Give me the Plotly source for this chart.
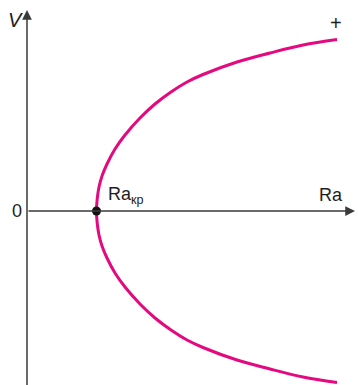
import plotly.graph_objects as go

# curve (arbitrary units, origin where the axes cross)
ra_cr = 69.5
ra_branch = [69.5, 70.2, 72, 75, 80, 88, 98, 113, 128, 144, 160, 176, 210, 243, 276, 310]
v_branch = [0, 12, 24, 35, 47, 62, 76, 93, 107, 119, 129, 136.5, 149, 158, 166, 171.5]

# full curve: lower branch (V < 0) then upper branch (V > 0)
ra_curve = ra_branch[::-1] + ra_branch[1:]
v_curve = [-v for v in v_branch[::-1]] + v_branch[1:]

axis_col = "#3a3a3a"
curve_col = "#e5097f"
txt_col = "#1e1e1e"
font = "Liberation Sans, Arial, sans-serif"

fig = go.Figure()

fig.add_trace(go.Scatter(
    x=ra_curve, y=v_curve, mode="lines",
    line=dict(color=curve_col, width=3, shape="spline", smoothing=1),
    hoverinfo="skip", showlegend=False,
))

fig.add_trace(go.Scatter(
    x=[ra_cr], y=[0], mode="markers",
    marker=dict(color="#111111", size=9),
    hoverinfo="skip", showlegend=False,
))

# axes with arrows
arrow = dict(showarrow=True, text="", arrowhead=2, arrowsize=1.3, arrowwidth=1.5,
             arrowcolor=axis_col, xref="x", yref="y", axref="x", ayref="y",
             standoff=0, startstandoff=0)
fig.add_annotation(x=0, y=201, ax=0, ay=-180, **arrow)
fig.add_annotation(x=328, y=0, ax=0, ay=0, **arrow)

labels = [
    ("<i>V</i>", -12, 191, 20),
    ("0", -10, 0, 18),
    ("Ra", 304, 16, 18),
    ("Ra<sub>кр</sub>", 99, 16, 18),
    ("+", 309, 188, 20),
]
for text, x, y, size in labels:
    fig.add_annotation(x=x, y=y, text=text, showarrow=False, xref="x", yref="y",
                       font=dict(family=font, size=size, color=txt_col))

fig.update_xaxes(range=[-27, 331], visible=False)
fig.update_yaxes(range=[-174, 211], visible=False)
fig.update_layout(
    width=358, height=385,
    margin=dict(l=0, r=0, t=0, b=0),
    plot_bgcolor="white", paper_bgcolor="white",
)

fig.write_html("out.html", config={"displayModeBar": False},
               post_script="document.body.style.margin='0';")
